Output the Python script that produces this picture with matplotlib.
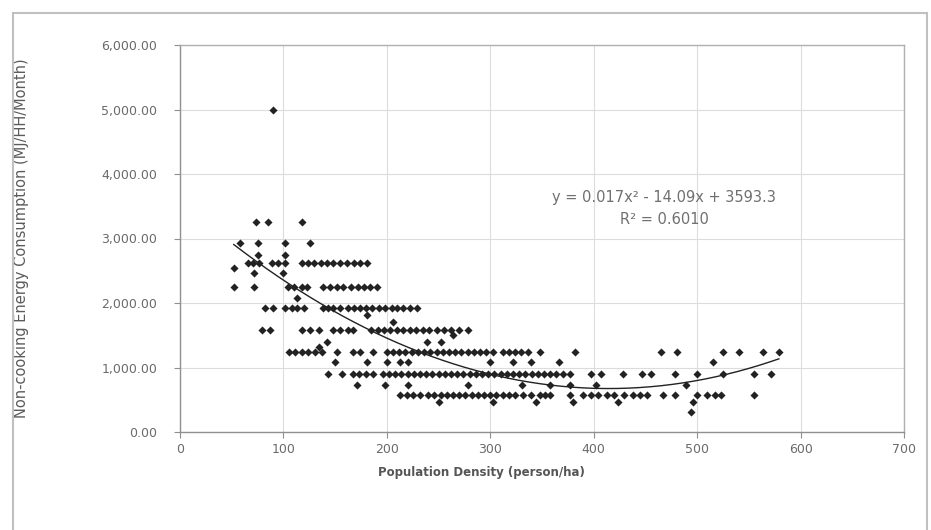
import matplotlib
matplotlib.use("Agg")
import matplotlib.pyplot as plt
from matplotlib.patches import Rectangle
from matplotlib.ticker import FuncFormatter
import numpy as np

plt.rcParams['font.family'] = ['DejaVu Sans']

# Observed points grouped by (approximate) consumption level read from the chart
# consumption value -> population densities
row_5000 = [90]
row_3260 = [73, 85, 118]
row_2930 = [58, 75, 102, 126]
row_2750 = [75, 102]
row_2620 = [66, 71, 76, 89, 95, 102, 118, 124, 130, 136, 142, 148, 155, 161, 168, 174, 181]
row_2540 = [52]
row_2465 = [72, 100]
row_2250 = [52, 72, 104, 110, 118, 123, 138, 145, 152, 158, 165, 172, 178, 184, 190]
row_2080 = [113]
row_1920 = [82, 90, 102, 108, 113, 120, 138, 143, 148, 155, 162, 168, 174, 180, 186, 192,
            198, 205, 210, 216, 222, 229]
row_1810 = [181]
row_1700 = [206]
row_1580 = [79, 87, 118, 126, 134, 148, 155, 162, 167, 185, 191, 197, 203, 210, 216, 222,
            228, 235, 241, 248, 255, 262, 270, 278]
row_1500 = [264]
row_1400 = [142, 239, 252]
row_1320 = [134]
row_1240 = [105, 111, 118, 124, 131, 137, 152, 167, 174, 187, 200, 206, 212, 218, 224, 230,
            236, 242, 248, 254, 260, 266, 272, 278, 284, 290, 296, 303, 312, 318, 324, 330,
            336, 348, 382, 465, 481, 525, 540, 564, 579]
row_1080 = [150, 181, 200, 213, 220, 300, 322, 339, 366, 515]
row_900 = [143, 157, 167, 173, 180, 187, 196, 202, 208, 214, 220, 226, 232, 238, 244, 250,
           256, 262, 268, 274, 280, 286, 292, 298, 304, 310, 316, 322, 328, 334, 340, 346,
           352, 358, 364, 370, 377, 397, 407, 428, 447, 455, 479, 500, 525, 555, 571]
row_730 = [171, 198, 220, 278, 331, 358, 377, 402, 489]
row_575 = [213, 219, 225, 232, 240, 246, 252, 258, 264, 270, 276, 282, 288, 294, 300, 306,
           312, 318, 324, 332, 339, 348, 353, 358, 377, 390, 397, 404, 413, 420, 429, 438,
           445, 452, 467, 479, 500, 510, 517, 523, 555]
row_465 = [250, 303, 344, 380, 423, 496]
row_310 = [494]

rows = [(5000, row_5000), (3260, row_3260), (2930, row_2930), (2750, row_2750),
        (2620, row_2620), (2540, row_2540), (2465, row_2465), (2250, row_2250),
        (2080, row_2080), (1920, row_1920), (1810, row_1810), (1700, row_1700),
        (1580, row_1580), (1500, row_1500), (1400, row_1400), (1320, row_1320),
        (1240, row_1240), (1080, row_1080), (900, row_900), (730, row_730),
        (575, row_575), (465, row_465), (310, row_310)]

density = []
consumption = []
for yv, xs in rows:
    for xv in xs:
        density.append(xv)
        consumption.append(yv)

# Trendline coefficients as printed on chart
trend_coef = [0.017, -14.09, 3593.3]
trend_text = "y = 0.017x² - 14.09x + 3593.3"
r2_text = "R² = 0.6010"

x_ticks = [0, 100, 200, 300, 400, 500, 600, 700]
y_ticks = [0, 1000, 2000, 3000, 4000, 5000, 6000]

fig = plt.figure(figsize=(9.31, 5.30), dpi=100)
ax = fig.add_axes([180/931, 1-432/530, (904-180)/931, (432-45)/530])

ax.scatter(density, consumption, marker='D', s=17, color='#222222', linewidths=0, zorder=3)

xs_t = np.linspace(min(density), max(density), 200)
ax.plot(xs_t, np.polyval(trend_coef, xs_t), color='#222222', lw=1.0, zorder=4)

ax.set_xlim(0, 700)
ax.set_ylim(0, 6000)
ax.set_xticks(x_ticks)
ax.set_yticks(y_ticks)
ax.yaxis.set_major_formatter(FuncFormatter(lambda v, p: f"{v:,.2f}"))
ax.grid(True, color='#dcdcdc', lw=0.8)
ax.set_axisbelow(True)
for s in ['top', 'right']:
    ax.spines[s].set_color('#b0b0b0')
for s in ['left', 'bottom']:
    ax.spines[s].set_color('#909090')
for s in ax.spines.values():
    s.set_linewidth(1.0)
ax.tick_params(axis='both', colors='#909090', labelcolor='#6a6a6a', labelsize=9, length=4, width=0.8)
ax.tick_params(axis='x', pad=3.8)
ax.tick_params(axis='y', pad=12.5)

ax.set_xlabel("Population Density (person/ha)", fontsize=8.5, fontweight='bold', color='#555555')
ax.xaxis.set_label_coords((481-180)/724, -0.087)
ax.set_ylabel("Non-cooking Energy Consumption (MJ/HH/Month)", fontsize=10.5, color='#5a5a5a')
ax.yaxis.set_label_coords((29-180)/724, 0.5)

ax.text(468, 3640, trend_text, fontsize=10.5, color='#707070', ha='center', va='center')
ax.text(468, 3290, r2_text, fontsize=10.5, color='#707070', ha='center', va='center')

fig.patches.append(Rectangle((13/931, -0.05), 914/931, 1 - 13/530 + 0.05,
                             transform=fig.transFigure, fill=False,
                             edgecolor='#c0c0c0', lw=1.5))

fig.savefig("out.png", dpi=100, facecolor='white')
